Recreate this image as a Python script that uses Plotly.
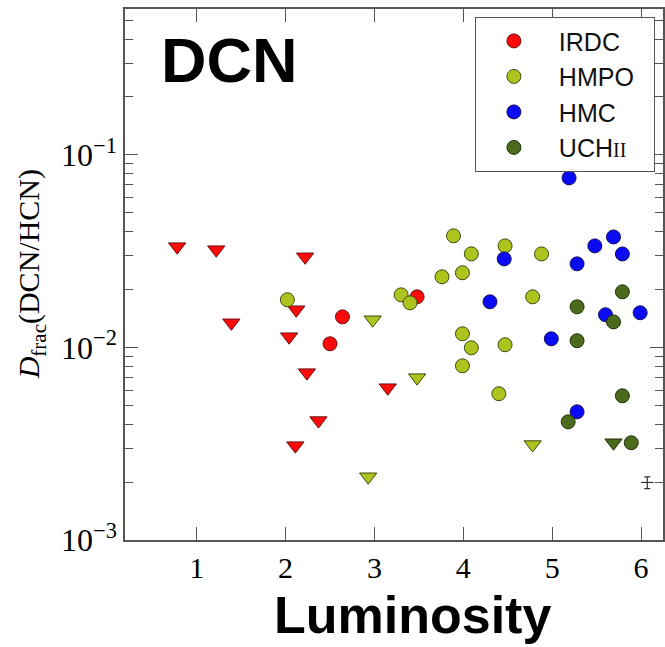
import plotly.graph_objects as go

# ---- data ----
irdc_x = [2.50, 2.64, 3.48]
irdc_y = [0.01045, 0.01442, 0.01832]
irdc_lim_x = [0.78, 1.22, 1.39, 2.04, 2.12, 2.22, 2.24, 2.37, 2.11, 3.15]
irdc_lim_y = [0.0334, 0.0322, 0.01343, 0.01137, 0.01570, 0.02957, 0.00740, 0.00417, 0.00309, 0.00618]

hmpo_x = [2.02, 3.30, 3.40, 3.76, 3.89, 3.99, 4.09, 3.99, 4.09, 3.99, 4.47, 4.47, 4.40, 4.88, 4.78]
hmpo_y = [0.0177, 0.01876, 0.01705, 0.02328, 0.0380, 0.02444, 0.03064, 0.01178, 0.00996, 0.00803,
          0.0337, 0.01033, 0.00575, 0.0306, 0.01832]
hmpo_lim_x = [2.98, 3.48, 2.93, 4.78]
hmpo_lim_y = [0.01393, 0.00697, 0.00213, 0.00313]

hmc_x = [5.19, 4.46, 4.30, 4.99, 5.28, 5.48, 5.69, 5.79, 5.60, 5.99, 5.28]
hmc_y = [0.0760, 0.02884, 0.01726, 0.01109, 0.02718, 0.0337, 0.0375, 0.0306, 0.01479, 0.01514, 0.00463]

uch_x = [5.28, 5.28, 5.79, 5.69, 5.79, 5.18, 5.89]
uch_y = [0.01626, 0.01084, 0.01945, 0.01358, 0.00561, 0.00411, 0.00320]
uch_lim_x = [5.69]
uch_lim_y = [0.00320]

err_x = [6.07]
err_y = [0.00199]
err_dy = [0.00014]
err_dx = [0.07]

x_ticks = [1, 2, 3, 4, 5, 6]
y_ticks = [0.001, 0.01, 0.1]
y_ticktext = ["10<sup>\u22123</sup>", "10<sup>\u22122</sup>", "10<sup>\u22121</sup>"]
y_minor = [m * d for d in (0.001, 0.01, 0.1) for m in range(2, 10)]

NB = "\u00a0"
names = [NB + "IRDC" + NB * 2, NB + "HMPO" + NB * 2, NB + "HMC" + NB * 2,
         NB + 'UCH<span style="font-family:Liberation Serif;font-size:20px">II</span>' + NB * 2]
colors = ["#ff0a0a", "#adc41e", "#0a0af5", "#4b6a1c"]
edges = ["#6a1010", "#3f4a10", "#10105a", "#22330c"]

fig = go.Figure()

groups = [
    (irdc_x, irdc_y, irdc_lim_x, irdc_lim_y),
    (hmpo_x, hmpo_y, hmpo_lim_x, hmpo_lim_y),
    (hmc_x, hmc_y, [], []),
    (uch_x, uch_y, uch_lim_x, uch_lim_y),
]

for i, (cx, cy, tx, ty) in enumerate(groups):
    fig.add_trace(go.Scatter(
        x=cx, y=cy, mode="markers", name=names[i], legendgroup=f"g{i}",
        marker=dict(symbol="circle", size=14, color=colors[i],
                    line=dict(color=edges[i], width=1)),
    ))
    if tx:
        fig.add_trace(go.Scatter(
            x=tx, y=ty, mode="markers", name=names[i] + " limit", legendgroup=f"g{i}",
            showlegend=False,
            marker=dict(symbol="triangle-down", size=15, color=colors[i],
                        line=dict(color=edges[i], width=1)),
        ))

fig.add_trace(go.Scatter(
    x=err_x, y=err_y, mode="markers", showlegend=False,
    marker=dict(size=1, color="#333"),
    error_y=dict(type="data", array=err_dy, color="#333", thickness=1.2, width=3),
    error_x=dict(type="data", array=err_dx, color="#333", thickness=1.2, width=0),
))

serif = "Liberation Serif"
axis_common = dict(showline=True, linecolor="#555", linewidth=1.5, mirror="ticks",
                   ticks="inside", tickcolor="#555", tickwidth=1.2,
                   showgrid=False, zeroline=False)

fig.update_xaxes(range=[0.193, 6.247], tickmode="array", tickvals=x_ticks,
                 ticktext=[str(t) for t in x_ticks], ticklen=13,
                 tickfont=dict(family=serif, size=30, color="black"), **axis_common)
fig.update_yaxes(type="log", range=[-3, -0.242], tickmode="array", tickvals=y_ticks,
                 ticktext=y_ticktext, ticklen=13,
                 tickfont=dict(family=serif, size=32, color="black"),
                 minor=dict(tickmode="array", tickvals=y_minor, ticks="inside",
                            ticklen=8, tickcolor="#555", tickwidth=1, showgrid=False),
                 **axis_common)

fig.add_annotation(xref="paper", yref="paper", x=-0.175, y=0.5, textangle=-90,
                   text="<i>D</i><sub>frac</sub>(DCN/HCN)", showarrow=False,
                   xanchor="center", yanchor="middle",
                   font=dict(family=serif, size=30, color="black"))
fig.add_annotation(xref="paper", yref="paper", x=0.063, y=0.904, text="<b>DCN</b>",
                   showarrow=False, xanchor="left", yanchor="middle",
                   font=dict(family="Liberation Sans", size=63, color="black"))
fig.add_annotation(xref="paper", yref="paper", x=0.535, y=-0.141, text="<b>Luminosity</b>",
                   showarrow=False, xanchor="center", yanchor="middle",
                   font=dict(family="Liberation Sans", size=52, color="black"))

fig.update_layout(
    width=665, height=647,
    margin=dict(l=125, r=0, t=9, b=107),
    paper_bgcolor="white", plot_bgcolor="white",
    legend=dict(x=0.65, y=0.985, xanchor="left", yanchor="top",
                bgcolor="white", bordercolor="#555", borderwidth=1.2,
                font=dict(family="Liberation Sans", size=25, color="#111"),
                itemwidth=66, tracegroupgap=0),
)

fig.write_html("out.html")
